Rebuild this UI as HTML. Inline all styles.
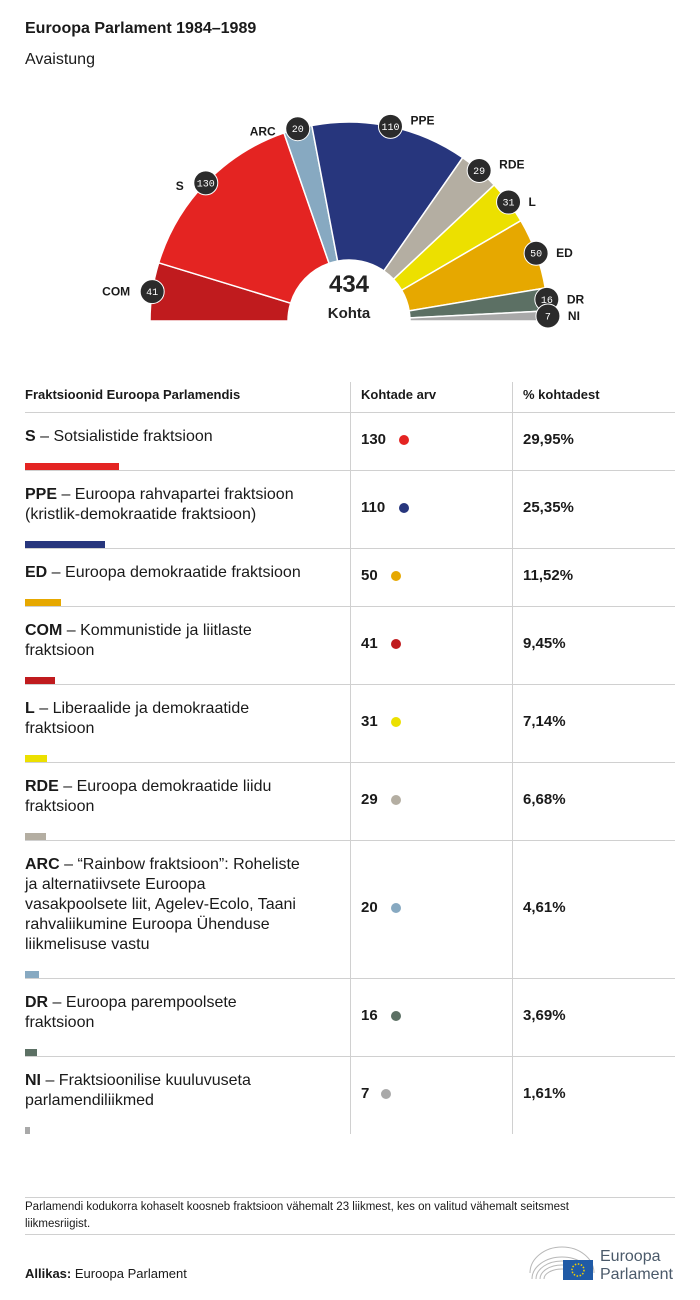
<!DOCTYPE html>
<html><head><meta charset="utf-8">
<style>
body{margin:0;background:#fff;font-family:"Liberation Sans",sans-serif;color:#1a1a1a;}
#page{position:relative;width:700px;height:1300px;overflow:hidden;}
.abs{position:absolute;}
.vl{position:absolute;width:1px;background:#d0d0d0;top:382px;height:752px;}
.hl{position:absolute;height:1px;background:#d0d0d0;left:25px;width:650px;}
.name{position:absolute;left:25px;width:318px;font-size:16px;line-height:20px;}
.num{position:absolute;left:361px;font-size:15px;font-weight:bold;}
.pct{position:absolute;left:523px;font-size:15px;font-weight:bold;}
.dot{position:absolute;width:10px;height:10px;border-radius:50%;}
.bar{position:absolute;left:25px;height:7px;}
</style></head><body>
<div id="page">
<div class="abs" style="left:25px;top:20px;font-size:16px;font-weight:bold;">Euroopa Parlament 1984–1989</div>
<div class="abs" style="left:25px;top:51px;font-size:16px;">Avaistung</div>
<svg id="chart" class="abs" style="left:0;top:0" width="700" height="360"></svg>
<div id="table"></div>
<div class="hl" style="top:1197px"></div>
<div class="abs" style="left:25px;top:1199px;font-size:11.5px;line-height:17px;width:590px">Parlamendi kodukorra kohaselt koosneb fraktsioon vähemalt 23 liikmest, kes on valitud vähemalt seitsmest liikmesriigist.</div>
<div class="hl" style="top:1234px"></div>
<div class="abs" style="left:25px;top:1266px;font-size:13px"><b>Allikas:</b> Euroopa Parlament</div>
<svg class="abs" style="left:528px;top:1243px" width="150" height="40">
<g fill="none" stroke="#b8b8b8" stroke-width="1">
<path d="M4 36 A30 22 0 0 1 64 36"/><path d="M8 36 A26 18 0 0 1 60 36"/><path d="M12 36 A22 14 0 0 1 56 36"/><path d="M2 30 A32 26 0 0 1 66 30"/><path d="M16 36 A18 10 0 0 1 52 36"/></g>
<rect x="35" y="17" width="30" height="20" fill="#1f5aa6"/>
<circle cx="50" cy="27" r="6" fill="none" stroke="#f4d000" stroke-width="1.5" stroke-dasharray="1.5 1.6"/>
<text x="72" y="18" font-size="16" fill="#4b5a6a" font-family="Liberation Sans">Euroopa</text>
<text x="72" y="36" font-size="16" fill="#4b5a6a" font-family="Liberation Sans">Parlament</text>
</svg>
</div>
<script>
const groups=['COM','S','ARC','PPE','RDE','L','ED','DR','NI'];
const seats=[41,130,20,110,29,31,50,16,7];
const colors=['#c01b1e','#e42422','#87a9c1','#27367d','#b4aea2','#ece000','#e6a800','#5c7064','#a9a9a9'];
const tableOrder=['S','PPE','ED','COM','L','RDE','ARC','DR','NI'];
const pcts=['29,95%','25,35%','11,52%','9,45%','7,14%','6,68%','4,61%','3,69%','1,61%'];
const names=['<b>S</b> – Sotsialistide fraktsioon','<b>PPE</b> – Euroopa rahvapartei fraktsioon<br>(kristlik-demokraatide fraktsioon)','<b>ED</b> – Euroopa demokraatide fraktsioon','<b>COM</b> – Kommunistide ja liitlaste<br>fraktsioon','<b>L</b> – Liberaalide ja demokraatide<br>fraktsioon','<b>RDE</b> – Euroopa demokraatide liidu<br>fraktsioon','<b>ARC</b> – “Rainbow fraktsioon”: Roheliste<br>ja alternatiivsete Euroopa<br>vasakpoolsete liit, Agelev-Ecolo, Taani<br>rahvaliikumine Euroopa Ühenduse<br>liikmelisuse vastu','<b>DR</b> – Euroopa parempoolsete<br>fraktsioon','<b>NI</b> – Fraktsioonilise kuuluvuseta<br>parlamendiliikmed'];
const rowTops=[412,470,548,606,684,762,840,978,1056,1134];

const NS='http://www.w3.org/2000/svg';
const svg=document.getElementById('chart');
const cx=349,cy=321,R=199,r=61;
const total=seats.reduce((a,b)=>a+b,0);
const ang=v=>Math.PI-v/total*Math.PI;
const pt=(a,rad)=>[cx+rad*Math.cos(a),cy-rad*Math.sin(a)];
function mk(tag,attrs){const e=document.createElementNS(NS,tag);for(const k in attrs)e.setAttribute(k,attrs[k]);svg.appendChild(e);return e;}
let cum=0;
const mids=[];
seats.forEach((s,i)=>{
  const a0=ang(cum),a1=ang(cum+s);
  const p0=pt(a0,R),p1=pt(a1,R),q1=pt(a1,r),q0=pt(a0,r);
  const d=`M${p0} A${R} ${R} 0 0 1 ${p1} L${q1} A${r} ${r} 0 0 0 ${q0} Z`;
  const p=mk('path',{d:d,fill:colors[i],stroke:'#fff','stroke-width':1.5});
  
  
  mids.push(ang(cum+s/2));
  cum+=s;
});
seats.forEach((s,i)=>{
  const [bx,by]=pt(mids[i],R);
  const c=mk('circle',{cx:bx,cy:by,r:12,fill:'#2b2b2b',stroke:'#fff','stroke-width':1});
  
  
  const t=mk('text',{x:bx,y:by+3.5,'text-anchor':'middle','font-size':10,fill:'#fff','font-family':'Liberation Mono, monospace'});
  t.textContent=s;
  
  
  const left=Math.cos(mids[i])>0.05?false:true;
  const l=mk('text',{x:left?bx-22:bx+20,y:by+4+(by<200?(left?3:-6):0),'text-anchor':left?'end':'start','font-size':12,'font-weight':'bold',fill:'#1a1a1a','font-family':'Liberation Sans, sans-serif'});
  l.textContent=groups[i];
  
  
});
const t1=mk('text',{x:cx,y:292,'text-anchor':'middle','font-size':24,'font-weight':'bold',fill:'#222','font-family':'Liberation Sans, sans-serif'});t1.textContent=total;


const t2=mk('text',{x:cx,y:318,'text-anchor':'middle','font-size':15,'font-weight':'bold',fill:'#222','font-family':'Liberation Sans, sans-serif'});t2.textContent='Kohta';



const tb=document.getElementById('table');
let h='<div class="abs" style="left:25px;top:387px;font-size:13px;font-weight:bold">Fraktsioonid Euroopa Parlamendis</div>';
h+='<div class="abs" style="left:361px;top:387px;font-size:13px;font-weight:bold">Kohtade arv</div>';
h+='<div class="abs" style="left:523px;top:387px;font-size:13px;font-weight:bold">% kohtadest</div>';
h+='<div class="vl" style="left:350px"></div><div class="vl" style="left:512px"></div>';
tableOrder.forEach((g,k)=>{
  const i=groups.indexOf(g);
  const top=rowTops[k],bot=rowTops[k+1],mid=(top+bot)/2-6;
  h+=`<div class="hl" style="top:${top}px"></div>`;
  h+=`<div class="name" style="top:${top+15}px">${names[k]}</div>`;
  h+=`<div class="num" style="top:${mid-4}px">${seats[i]}</div>`;
  const nw=seats[i]>=100?29:(seats[i]>=10?21:11);
  h+=`<div class="dot" style="left:${361+nw+9}px;top:${mid}px;background:${colors[i]}"></div>`;
  h+=`<div class="pct" style="top:${mid-4}px">${pcts[k]}</div>`;
  h+=`<div class="bar" style="top:${bot-7}px;width:${Math.max(seats[i]*0.723,4)}px;background:${colors[i]}"></div>`;
});
tb.innerHTML=h;
</script>
</body></html>
